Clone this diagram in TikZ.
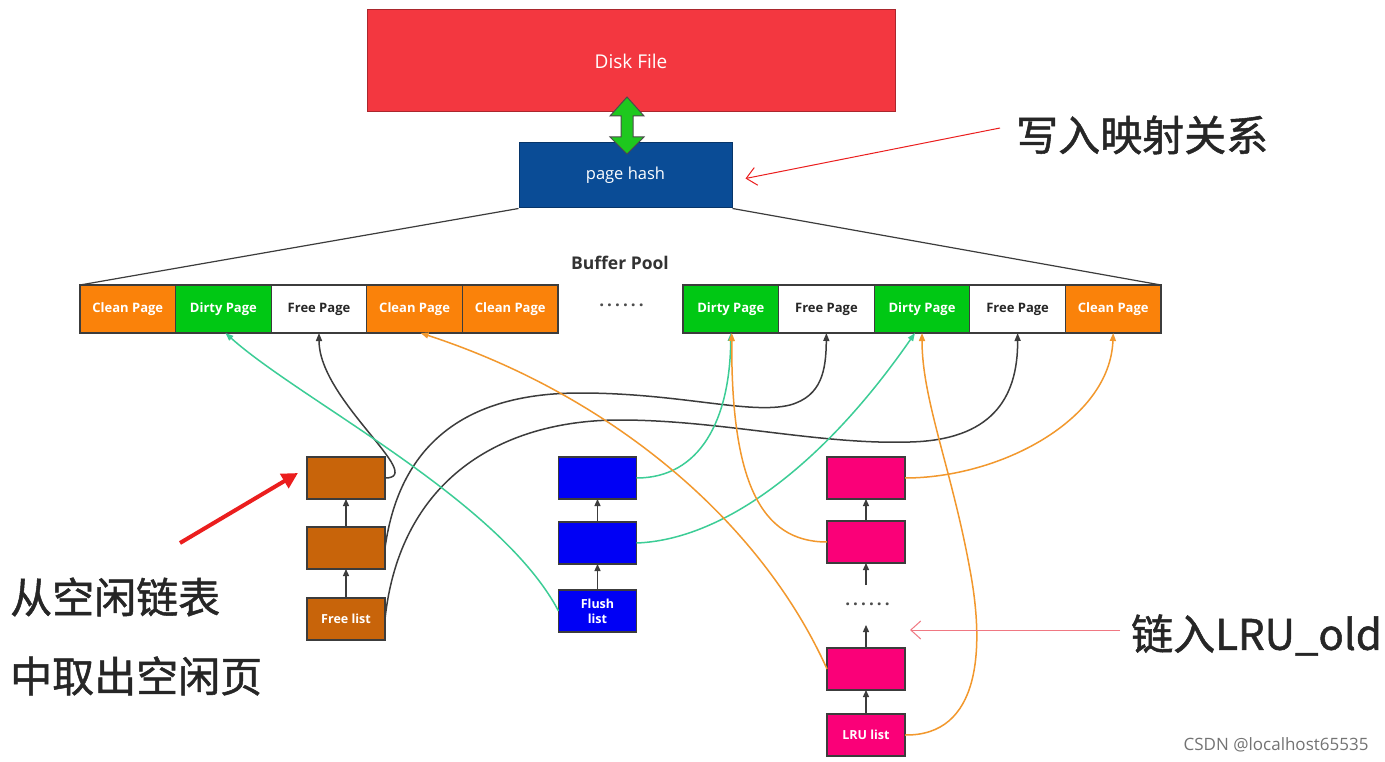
\documentclass[tikz,border=0pt]{standalone}
\usepackage{fontspec}
\setmainfont{Open Sans}
\newfontfamily\cjk[AutoFakeBold=1.2]{Noto Sans CJK SC}
\usetikzlibrary{arrows.meta}
\definecolor{diskc}{RGB}{243,55,64}
\definecolor{hashc}{RGB}{10,76,150}
\definecolor{cleanc}{RGB}{250,130,10}
\definecolor{dirtyc}{RGB}{0,200,20}
\definecolor{freec}{RGB}{200,100,10}
\definecolor{flushc}{RGB}{0,0,245}
\definecolor{lruc}{RGB}{250,0,120}
\definecolor{linec}{RGB}{60,60,60}
\definecolor{tealc}{RGB}{60,205,150}
\definecolor{orc}{RGB}{242,152,45}
\definecolor{dgreen}{RGB}{30,200,30}
\definecolor{annred}{RGB}{235,30,30}
\definecolor{pinkc}{RGB}{240,120,130}
\begin{document}
\begin{tikzpicture}[x=1pt,y=-1pt,
  cell/.style={draw=linec, line width=1.2pt, minimum width=95.6pt, minimum height=48pt, inner sep=0pt, outer sep=0pt, font=\bfseries\fontsize{13}{13}\selectfont},
  clean/.style={cell, fill=cleanc, text=white},
  dirty/.style={cell, fill=dirtyc, text=white},
  freep/.style={cell, fill=white, text=black!85},
  lbox/.style={draw=linec, line width=1.2pt, minimum width=78pt, minimum height=42pt, inner sep=0pt, outer sep=0pt, text=white, font=\bfseries\fontsize{12.5}{15}\selectfont, align=center},
  conn/.style={line width=1.5pt, -{Triangle[length=8pt,width=6pt]}},
  link/.style={line width=1.3pt, draw=linec, -{Triangle[length=7pt,width=6pt]}},
  dots/.style={font=\bfseries\fontsize{17}{17}\selectfont\addfontfeature{LetterSpace=18}, text=black!70},
  cjklabel/.style={font=\cjk\bfseries\fontsize{42}{42}\selectfont, text=black!85, inner sep=0pt}
]
\fill[white] (0,0) rectangle (1385,762);
\useasboundingbox (0,0) rectangle (1385,762);

% top
\node[draw=diskc!70!black, line width=1pt, fill=diskc, minimum width=528pt, minimum height=102pt, inner sep=0pt, text=white, font=\fontsize{19}{19}\selectfont] (disk) at (631,61) {Disk File};
\node[draw=hashc!70!black, line width=1pt, fill=hashc, minimum width=213pt, minimum height=65pt, inner sep=0pt, text=white, font=\fontsize{16.5}{17}\selectfont] (ph) at (625.5,175.5) {page hash};
\draw[fill=dgreen, draw=black!70, line width=1pt] (627,97) -- (644,116) -- (633,116) -- (633,137) -- (644,137) -- (627,154) -- (610,137) -- (621,137) -- (621,116) -- (610,116) -- cycle;

\node[font=\bfseries\fontsize{17.5}{18}\selectfont, text=black!80] (bp) at (620,263) {Buffer Pool};

% pool
\node[clean] (l1) at (127.8,309) {Clean Page};
\node[dirty] (l2) at (223.4,309) {Dirty Page};
\node[freep] (l3) at (319,309) {Free Page};
\node[clean] (l4) at (414.6,309) {Clean Page};
\node[clean] (l5) at (510.2,309) {Clean Page};
\node[dots] (pdots) at (621.5,305) {......};
\node[dirty] (r1) at (730.8,309) {Dirty Page};
\node[freep] (r2) at (826.4,309) {Free Page};
\node[dirty] (r3) at (922,309) {Dirty Page};
\node[freep] (r4) at (1017.6,309) {Free Page};
\node[clean] (r5) at (1113.2,309) {Clean Page};

\draw[linec, line width=1.2pt] (ph.south west) -- (l1.north west);
\draw[linec, line width=1.2pt] (ph.south east) -- (r5.north east);

% free list
\node[lbox, fill=freec] (f1) at (346,478) {};
\node[lbox, fill=freec] (f2) at (346,548) {};
\node[lbox, fill=freec] (f3) at (346,619) {Free list};
\draw[link] (f3.north) -- (f2.south);
\draw[link] (f2.north) -- (f1.south);

% flush list
\node[lbox, fill=flushc] (u1) at (597.5,478) {};
\node[lbox, fill=flushc] (u2) at (597.5,543) {};
\node[lbox, fill=flushc] (u3) at (597.5,611) {Flush\\list};
\draw[link] (u3.north) -- (u2.south);
\draw[link] (u2.north) -- (u1.south);

% lru list
\node[lbox, fill=lruc] (g1) at (866,478) {};
\node[lbox, fill=lruc] (g2) at (866,542) {};
\node[dots] (gdots) at (867.5,604) {......};
\node[lbox, fill=lruc] (g4) at (866,669) {};
\node[lbox, fill=lruc] (g5) at (866,735) {LRU list};
\coordinate (ga) at (866,585);
\coordinate (gb) at (866,625);
\draw[link] (g5.north) -- (g4.south);
\draw[link] (g4.north) -- (gb);
\draw[link] (ga) -- (g2.south);
\draw[link] (g2.north) -- (g1.south);

% black connectors
\draw[conn, linec] (f1.east) .. controls (428,478) and (319,400) .. (l3.south);
\draw[conn, linec] (f2.east) .. controls (400,440) and (470,393) .. (580,393)
   .. controls (680,393) and (750,415) .. (790,405)
   .. controls (822,396) and (826,370) .. (r2.south);
\draw[conn, linec] (f3.east) .. controls (400,480) and (500,420) .. (620,420)
   .. controls (720,420) and (820,445) .. (910,442)
   .. controls (990,440) and (1018,400) .. (r4.south);

% teal connectors
\draw[conn, tealc] (u3.west) .. controls (500,500) and (300,400) .. ([xshift=2pt]l2.south);
\draw[conn, tealc] (u1.east) .. controls (700,478) and (730,420) .. (r1.south);
\draw[conn, tealc] (u2.east) .. controls (720,540) and (820,470) .. ([xshift=-7pt]r3.south);

% orange connectors
\draw[conn, orc] (g4.west) .. controls (760,520) and (610,395) .. ([xshift=6pt]l4.south);
\draw[conn, orc] (g2.west) .. controls (760,542) and (731,480) .. ([xshift=1pt]r1.south);
\draw[conn, orc] (g5.east) .. controls (980,736) and (985,650) .. (970,570)
   .. controls (952,470) and (922,400) .. (r3.south);
\draw[conn, orc] (g1.east) .. controls (1000,478) and (1110,420) .. (r5.south);

% annotations
\node[cjklabel, anchor=west] (t1) at (1016,135) {写入映射关系};
\node[cjklabel, anchor=west] (t2) at (10,597) {从空闲链表};
\node[cjklabel, anchor=west] (t3) at (10,676) {中取出空闲页};
\node[cjklabel, anchor=west] (t4) at (1131,635) {链入LRU\_old};
\coordinate (a1) at (1000,128);
\coordinate (a2) at (180,543);
\coordinate (a3) at (1120,630);
\coordinate (a3e) at (910,630);
\draw[annred, line width=1pt, -{Straight Barb[length=10pt,width=18pt,line width=1pt]}] (a1) -- ([xshift=13pt,yshift=-3pt]ph.east);
\draw[annred, line width=4pt, -{Triangle[length=16pt,width=16pt]}] (a2) -- ([xshift=-9pt,yshift=5pt]f1.west);
\draw[pinkc, line width=1pt, -{Straight Barb[length=10pt,width=18pt,line width=1pt]}] (a3) -- (a3e);

\node[anchor=east, text=black!55, font=\fontsize{17}{17}\selectfont] (wm) at (1372,745) {CSDN @localhost65535};
\end{tikzpicture}
\end{document}
